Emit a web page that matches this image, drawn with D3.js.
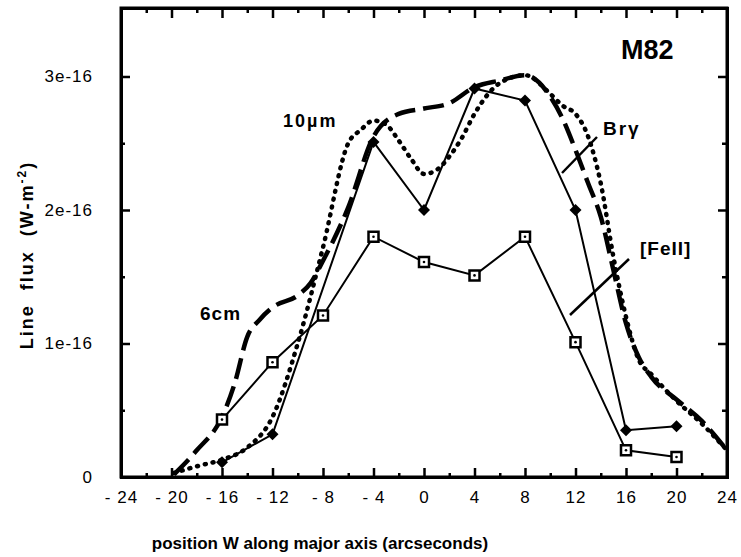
<!DOCTYPE html>
<html lang="en">
<head>
<meta charset="utf-8">
<title>M82 line flux along major axis</title>
<script src="https://d3js.org/d3.v7.min.js"></script>
<style type="text/css">
	body { margin: 0; background: #fff; position: relative; }
	.axis text { font-family: "Liberation Sans", Arial, sans-serif; font-size: 17px; fill: #000; }
	.lbl { font-family: "Liberation Sans", Arial, sans-serif; font-weight: bold; fill: #000; white-space: pre; }
	.frame { position: absolute; box-sizing: border-box; border: 3px solid #000; pointer-events: none; }
</style>
</head>
<body>
<script type="text/javascript">
// Values (flux in units of 1e-16 W m^-2)
var positions = [-16, -12, -8, -4, 0, 4, 8, 12, 16, 20];
var brgX   = [-16, -12, -4, 0, 4, 8, 12, 16, 20];
var brgY   = [0.11, 0.32, 2.51, 2.0, 2.91, 2.82, 2.0, 0.35, 0.38];
var feiiY  = [0.43, 0.86, 1.21, 1.80, 1.61, 1.51, 1.80, 1.01, 0.20, 0.15];

var midirX = [-19.8, -18, -16, -14, -12, -10, -8, -6, -5, -4, -3, -2, -1, 0, 1, 2, 3, 4, 6, 8, 10, 11, 12, 13, 14, 15, 16, 17, 18, 20, 22, 24];
var midirY = [0.03, 0.08, 0.13, 0.22, 0.45, 1.0, 1.72, 2.5, 2.6, 2.67, 2.64, 2.52, 2.38, 2.27, 2.3, 2.4, 2.54, 2.72, 2.95, 3.01, 2.87, 2.78, 2.72, 2.55, 2.2, 1.65, 1.2, 0.88, 0.77, 0.57, 0.4, 0.2];

var radioX = [-19.8, -18, -16, -15, -14, -13, -12, -10, -9, -8, -6, -4, -2, 0, 2, 4, 6, 8, 10, 11, 12, 13, 14, 15, 16, 17, 18, 20, 22, 24];
var radioY = [0.02, 0.2, 0.45, 0.7, 1.05, 1.18, 1.27, 1.36, 1.45, 1.62, 2.02, 2.55, 2.72, 2.76, 2.8, 2.92, 2.97, 3.01, 2.85, 2.68, 2.45, 2.2, 1.95, 1.55, 1.15, 0.9, 0.75, 0.58, 0.42, 0.2];

var xTicks = [-24, -20, -16, -12, -8, -4, 0, 4, 8, 12, 16, 20, 24];
var xMinor = [-22, -18, -14, -10, -6, -2, 2, 6, 10, 14, 18, 22];
var yTicks = [0, 1, 2, 3];
var yMinor = [0.5, 1.5, 2.5];

// plot frame (window.top is reserved, so use other names)
var plotL = 121, plotR = 727, plotT = 8, plotB = 477;

var svg = d3.select("body").append("svg")
	.style("display", "block")
	.attr("width", 741)
	.attr("height", 557);

var xScale = d3.scaleLinear().domain([-24, 24]).range([plotL, plotR]);
var yScale = d3.scaleLinear().domain([0, 3.513]).range([plotB, plotT]);

function xFmt(d) {
	return d < 0 ? "- " + (-d) : "" + d;
}
function yFmt(d) {
	return d === 0 ? "0" : d + "e-16";
}

// axes with inward ticks
svg.append("g").attr("class", "axis")
	.attr("transform", "translate(0," + plotB + ")")
	.call(d3.axisBottom(xScale).tickValues(xTicks).tickSize(-9).tickPadding(14).tickFormat(xFmt));
svg.append("g").attr("class", "axis")
	.attr("transform", "translate(0," + plotB + ")")
	.call(d3.axisBottom(xScale).tickValues(xMinor).tickSize(-4).tickFormat(""));
svg.append("g").attr("class", "axis")
	.attr("transform", "translate(0," + plotT + ")")
	.call(d3.axisTop(xScale).tickValues(xTicks).tickSize(-10).tickFormat(""));
svg.append("g").attr("class", "axis")
	.attr("transform", "translate(0," + plotT + ")")
	.call(d3.axisTop(xScale).tickValues(xMinor).tickSize(-5).tickFormat(""));
svg.append("g").attr("class", "axis")
	.attr("transform", "translate(" + plotL + ",0)")
	.call(d3.axisLeft(yScale).tickValues(yTicks).tickSize(-9).tickPadding(28).tickFormat(yFmt));
svg.append("g").attr("class", "axis")
	.attr("transform", "translate(" + plotL + ",0)")
	.call(d3.axisLeft(yScale).tickValues(yMinor).tickSize(-4).tickFormat(""));
svg.append("g").attr("class", "axis")
	.attr("transform", "translate(" + plotR + ",0)")
	.call(d3.axisRight(yScale).tickValues(yTicks.slice(1)).tickSize(-9).tickFormat(""));
svg.append("g").attr("class", "axis")
	.attr("transform", "translate(" + plotR + ",0)")
	.call(d3.axisRight(yScale).tickValues(yMinor).tickSize(-5).tickFormat(""));

svg.selectAll(".axis .domain")
	.attr("stroke", "#000")
	.attr("stroke-width", 3);
svg.selectAll(".axis line")
	.attr("stroke", "#000")
	.attr("stroke-width", 2.5);
svg.selectAll(".axis text").attr("letter-spacing", "1px");

// frame as a filled ring as well
var fw = 1.5;
svg.append("path")
	.attr("d", "M" + (plotL - fw) + "," + (plotT - fw) + "H" + (plotR + fw) + "V" + (plotB + fw) + "H" + (plotL - fw) + "Z" +
		"M" + (plotL + fw) + "," + (plotT + fw) + "V" + (plotB - fw) + "H" + (plotR - fw) + "V" + (plotT + fw) + "Z")
	.attr("fill", "#000").attr("fill-rule", "evenodd");

// and once more as an html border laid over the svg
d3.select("body").append("div")
	.attr("class", "frame")
	.style("left", (plotL - fw) + "px")
	.style("top", (plotT - fw) + "px")
	.style("width", (plotR - plotL + 2 * fw) + "px")
	.style("height", (plotB - plotT + 2 * fw) + "px");

function pairs(xs, ys) {
	return xs.map(function(x, i) { return [x, ys[i]]; });
}

var smooth = d3.line()
	.x(function(d) { return xScale(d[0]); })
	.y(function(d) { return yScale(d[1]); })
	.curve(d3.curveMonotoneX);
var straight = d3.line()
	.x(function(d) { return xScale(d[0]); })
	.y(function(d) { return yScale(d[1]); });

// 6cm - long dashes
svg.append("path")
	.attr("d", smooth(pairs(radioX, radioY)))
	.attr("fill", "none").attr("stroke", "#000")
	.attr("stroke-width", 4.5).attr("stroke-dasharray", "21,8");

// 10um - dotted
svg.append("path")
	.attr("d", smooth(pairs(midirX, midirY)))
	.attr("fill", "none").attr("stroke", "#000")
	.attr("stroke-width", 4.5).attr("stroke-linecap", "round")
	.attr("stroke-dasharray", "1,7");

// [FeII] - thin solid with open squares
var feii = pairs(positions, feiiY);
svg.append("path")
	.attr("d", straight(feii))
	.attr("fill", "none").attr("stroke", "#000").attr("stroke-width", 2);
svg.selectAll(".sq").data(feii).enter().append("path")
	.attr("class", "sq")
	.attr("transform", function(d) { return "translate(" + xScale(d[0]) + "," + yScale(d[1]) + ")"; })
	.attr("d", "M-5,-5H5V5H-5Z")
	.attr("fill", "#fff").attr("stroke", "#000").attr("stroke-width", 2.5);
svg.selectAll(".sqdot").data(feii).enter().append("circle")
	.attr("class", "sqdot")
	.attr("cx", function(d) { return xScale(d[0]); })
	.attr("cy", function(d) { return yScale(d[1]); })
	.attr("r", 1.3).attr("fill", "#000");

// Br gamma - solid with filled diamonds
var brg = pairs(brgX, brgY);
svg.append("path")
	.attr("d", straight(brg))
	.attr("fill", "none").attr("stroke", "#000").attr("stroke-width", 2);
svg.selectAll(".dia").data(brg).enter().append("path")
	.attr("class", "dia")
	.attr("transform", function(d) { return "translate(" + xScale(d[0]) + "," + yScale(d[1]) + ")"; })
	.attr("d", "M0,-6L6,0L0,6L-6,0Z")
	.attr("fill", "#000");

// leader lines for labels
svg.append("line")
	.attr("x1", 562).attr("y1", 173).attr("x2", 597).attr("y2", 137)
	.attr("stroke", "#000").attr("stroke-width", 2.5);
svg.append("line")
	.attr("x1", 570).attr("y1", 315).attr("x2", 629).attr("y2", 259)
	.attr("stroke", "#000").attr("stroke-width", 2.5);

// labels
svg.append("text").attr("class", "lbl").attr("x", 621).attr("y", 59)
	.style("font-size", "27px").text("M82");
svg.append("text").attr("class", "lbl").attr("x", 283).attr("y", 127)
	.style("font-size", "18px").style("letter-spacing", "2px").text("10\u00b5m");
svg.append("text").attr("class", "lbl").attr("x", 603).attr("y", 135)
	.style("font-size", "19px").style("letter-spacing", "2px").text("Br\u03b3");
svg.append("text").attr("class", "lbl").attr("x", 640).attr("y", 255)
	.style("font-size", "19px").style("letter-spacing", "1px").text("[FeII]");
svg.append("text").attr("class", "lbl").attr("x", 200).attr("y", 320)
	.style("font-size", "19px").style("letter-spacing", "1px").text("6cm");

// axis titles
svg.append("text").attr("class", "lbl")
	.attr("x", 320).attr("y", 549)
	.attr("text-anchor", "middle")
	.style("font-size", "17px")
	.text("position W along major axis (arcseconds)");

var yt = svg.append("text").attr("class", "lbl")
	.attr("transform", "translate(33,255) rotate(-90)")
	.attr("text-anchor", "middle")
	.style("font-size", "18px").style("letter-spacing", "2px");
yt.append("tspan").text("Line  flux  (W-m");
yt.append("tspan").attr("dy", -7).style("font-size", "12px").text("-2");
yt.append("tspan").attr("dy", 7).text(")");
</script>
</body>
</html>
